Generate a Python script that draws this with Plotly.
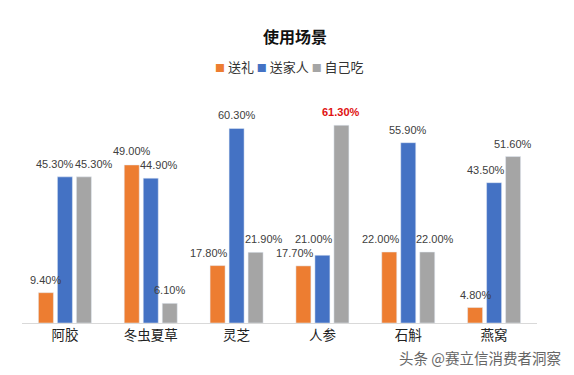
import plotly.graph_objects as go

categories = ["阿胶", "冬虫夏草", "灵芝", "人参", "石斛", "燕窝"]
series_names = ["送礼", "送家人", "自己吃"]
gift = [9.40, 49.00, 17.80, 17.70, 22.00, 4.80]
family = [45.30, 44.90, 60.30, 21.00, 55.90, 43.50]
self_eat = [45.30, 6.10, 21.90, 61.30, 22.00, 51.60]
colors = ["#ED7D31", "#4472C4", "#A5A5A5"]

all_vals = [gift, family, self_eat]
max_val = max(max(v) for v in all_vals)

W, H = 574, 375
ML, MR, MT, MB = 22, 37, 113, 52
YMAX = 65.1
plot_w = W - ML - MR
plot_h = H - MT - MB
ppu = plot_h / YMAX
BARGAP = 0.336
GROUPGAP = 0.21
cat_w = plot_w / len(categories)
pitch = cat_w * (1 - BARGAP) / len(series_names)
bar_w = pitch * (1 - GROUPGAP)

font_cjk = "Noto Sans CJK SC, Microsoft YaHei, sans-serif"
font_num = "Liberation Sans, Arial, sans-serif"
LABEL_SIZE = 11


def text_width(s, size=LABEL_SIZE):
    w = 0
    for ch in s:
        if ch.isdigit():
            w += 0.556
        elif ch == ".":
            w += 0.278
        elif ch == "%":
            w += 0.889
        else:
            w += 0.6
    return w * size


fig = go.Figure()
for name, vals, col in zip(series_names, all_vals, colors):
    fig.add_trace(go.Bar(
        name=name, x=categories, y=vals, marker_color=col,
        hoverinfo="skip", showlegend=False,
    ))

# ---- data labels: start centred above each bar, then nudge away from overlaps
n = len(series_names)
for j, cat in enumerate(categories):
    labels = []
    for i in range(n):
        v = all_vals[i][j]
        s = f"{v:.2f}%"
        labels.append(dict(i=i, v=v, s=s, w=text_width(s),
                           cx=(i - (n - 1) / 2) * pitch, dy=0.0))
    # avoid taller neighbouring bars
    for lab in labels:
        bottom = lab["v"] * ppu + 4
        for nb in (lab["i"] - 1, lab["i"] + 1):
            if 0 <= nb < n and all_vals[nb][j] * ppu > bottom:
                nb_c = (nb - (n - 1) / 2) * pitch
                if nb < lab["i"]:
                    ov = (nb_c + bar_w / 2) - (lab["cx"] - lab["w"] / 2)
                    if ov > 5:
                        lab["cx"] += ov + 1
                else:
                    ov = (lab["cx"] + lab["w"] / 2) - (nb_c - bar_w / 2)
                    if ov > 5:
                        lab["cx"] -= ov + 1
    # avoid neighbouring labels
    for a, b in zip(labels[:-1], labels[1:]):
        hov = (a["cx"] + a["w"] / 2) - (b["cx"] - b["w"] / 2)
        ya = a["v"] * ppu + a["dy"]
        yb = b["v"] * ppu + b["dy"]
        if hov > 0 and abs(ya - yb) < 14:
            if abs(a["v"] - b["v"]) < 1e-9:
                a["cx"] -= hov / 2 + 1
                b["cx"] += hov / 2 + 1
            elif ya > yb:
                a["dy"] += 14 - (ya - yb)
            else:
                b["dy"] += 14 - (yb - ya)
    for lab in labels:
        is_max = lab["v"] == max_val
        fig.add_annotation(
            x=cat, y=lab["v"], xref="x", yref="y",
            text=f"<b>{lab['s']}</b>" if is_max else lab["s"],
            showarrow=False, xanchor="center", yanchor="bottom",
            xshift=lab["cx"], yshift=5 + lab["dy"],
            font=dict(size=LABEL_SIZE, family=font_num,
                      color="#E01010" if is_max else "#404040"),
        )

# ---- legend row (compact, as in the original)
legend_html = "&nbsp;".join(
    f"<span style='color:{c}; font-size:10px'>■</span> {nm}"
    for nm, c in zip(series_names, colors)
)
fig.add_annotation(text=legend_html, xref="paper", yref="paper",
                   x=0.52, y=(H - MB - 67) / plot_h, xanchor="center", yanchor="middle",
                   showarrow=False,
                   font=dict(size=13, color="#333333", family=font_cjk))

fig.update_layout(
    width=W, height=H,
    margin=dict(l=ML, r=MR, t=MT, b=MB, autoexpand=False),
    paper_bgcolor="white", plot_bgcolor="white",
    barmode="group", bargap=BARGAP, bargroupgap=GROUPGAP,
    title=dict(text="<b>使用场景</b>", x=0.514, xanchor="center",
               y=1 - 37 / H, yanchor="middle",
               font=dict(size=16, color="#111111", family=font_cjk)),
    font=dict(family=font_cjk),
    showlegend=False,
)
fig.update_xaxes(showline=True, linecolor="#D9D9D9", linewidth=1,
                 tickfont=dict(size=13.5, color="#222222", family=font_cjk),
                 ticks="", showgrid=False, automargin=False)
fig.update_yaxes(range=[0, YMAX], visible=False, showgrid=False, automargin=False)

fig.add_annotation(text="头条 @赛立信消费者洞察", xref="paper", yref="paper",
                   x=(563 - ML) / plot_w, y=(H - MB - 357) / plot_h,
                   xanchor="right", yanchor="middle", showarrow=False,
                   font=dict(size=14.5, color="#666666", family=font_cjk))

fig.write_html("out.html", config={"displayModeBar": False},
               post_script="document.body.style.margin='0';document.body.style.overflow='hidden';")
